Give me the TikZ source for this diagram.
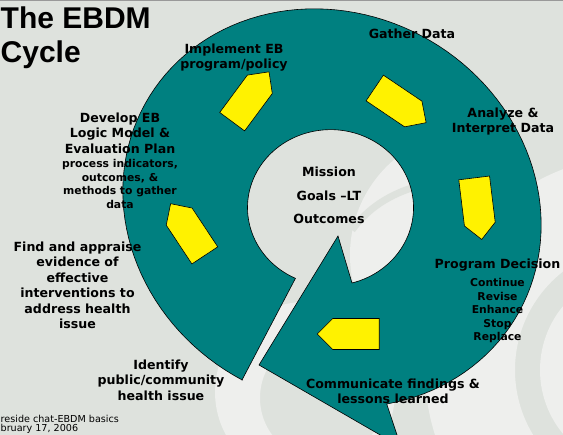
\documentclass[tikz,border=0pt]{standalone}
\usepackage{fontspec}
\setsansfont{DejaVu Sans}
\newfontfamily\titlefont{Liberation Sans}
\usetikzlibrary{positioning,shapes.symbols}

\definecolor{slidebg}{RGB}{222,226,221}
\definecolor{wmark}{RGB}{238,239,237}
\definecolor{cycleteal}{RGB}{0,128,128}

\tikzset{
  lbl/.style={font=\sffamily\bfseries\fontsize{12.6}{15.5}\selectfont, align=center, inner sep=0pt},
  sublbl/.style={font=\sffamily\bfseries\fontsize{10.8}{13.6}\selectfont, align=center, inner sep=0pt},
  steparrow/.style={signal, signal to=east, signal from=nowhere, draw=black, fill=yellow,
    minimum width=62pt, minimum height=31pt, inner sep=0pt, line width=0.6pt},
  spiral/.style={fill=cycleteal, draw=black, line width=0.6pt}
}

\begin{document}
\begin{tikzpicture}[x=1pt, y=-1pt]
  \useasboundingbox (0,0) rectangle (563,435);
  \fill[slidebg] (0,0) rectangle (563,435);
  \fill[black!40] (0,0) rectangle (563,1.5);

  % faint background swooshes
  \fill[wmark, even odd rule] (640,370) circle [radius=215] (640,370) circle [radius=125];
  \fill[wmark] (640,370) circle [radius=100];
  \fill[wmark, even odd rule] (305,392) circle [radius=90] (322,398) circle [radius=62];
  \begin{scope}
    \clip (330.5,207.7) ellipse [x radius=83, y radius=78];
    \fill[wmark] (475,255) circle [radius=125];
    \draw[slidebg, line width=7pt] (418,186) .. controls (390,194) and (368,208) .. (352,230);
  \end{scope}

  % the cycle arrow
  \filldraw[spiral] (242,380)
    -- plot[domain=-272.2:47.2, samples=120, variable=\t]
       ({332+214*cos(\t)*cos(30)-194*sin(\t)*sin(30)}, {208+214*cos(\t)*sin(30)+194*sin(\t)*cos(30)})
    -- (401,447) -- (259,365) -- (338,236) -- (352,283)
    arc[start angle=75, end angle=-245, x radius=83, y radius=78] -- cycle;

  % step arrows
  \node[steparrow, rotate=53.5] (implementarrow) at (246,103) {};
  \node[steparrow, rotate=-34] (gatherarrow) at (394,101) {};
  \node[steparrow, rotate=-83] (analyzearrow) at (477,201) {};
  \node[steparrow, rotate=180] (communicatearrow) at (356,334) {};
  \node[steparrow, rotate=123.5] (findarrow) at (192,236) {};

  % labels
  \node[font=\titlefont\bfseries\fontsize{30}{34}\selectfont, align=left, anchor=north west, inner sep=0pt]
    (title) at (0.5,7) {The EBDM\\Cycle};
  \node[lbl, anchor=north] (implement) at (234,43.4) {Implement EB\\program/policy};
  \node[lbl, anchor=base] (gather) at (412,39) {Gather Data};
  \node[lbl, anchor=north] (analyze) at (503,107.4) {Analyze \&\\Interpret Data};
  \node[lbl, anchor=north] (develop) at (120,112.4) {Develop EB\\Logic Model \&\\Evaluation Plan};
  \node[sublbl, below=5.8pt of develop] (develophow) {process indicators,\\outcomes, \&\\methods to gather\\data};
  \node[lbl, anchor=north] (find) at (77.5,241.4)
    {Find and appraise\\evidence of\\effective\\interventions to\\address health\\issue};
  \node[lbl, anchor=north] (identify) at (161,359.4) {Identify\\public/community\\health issue};
  \node[lbl, anchor=north, align=center] (mission) at (329,166.8) {Mission\\[8pt]Goals –LT\\[8pt]Outcomes};
  \node[lbl, anchor=base] (program) at (497.5,269) {Program Decision};
  \node[sublbl, below=6.2pt of program] (programhow) {Continue\\Revise\\Enhance\\Stop\\Replace};
  \node[lbl, anchor=north] (communicate) at (393,378.4) {Communicate findings \&\\lessons learned};
  \node[font=\sffamily\fontsize{9.6}{11}\selectfont, anchor=base west, inner sep=0pt]
    (footer) at (0.5,422.5) {reside chat-EBDM basics};
  \node[font=\sffamily\fontsize{9.6}{11}\selectfont, anchor=base west, inner sep=0pt]
    (footerdate) at (0.5,432) {bruary 17, 2006};
\end{tikzpicture}
\end{document}
